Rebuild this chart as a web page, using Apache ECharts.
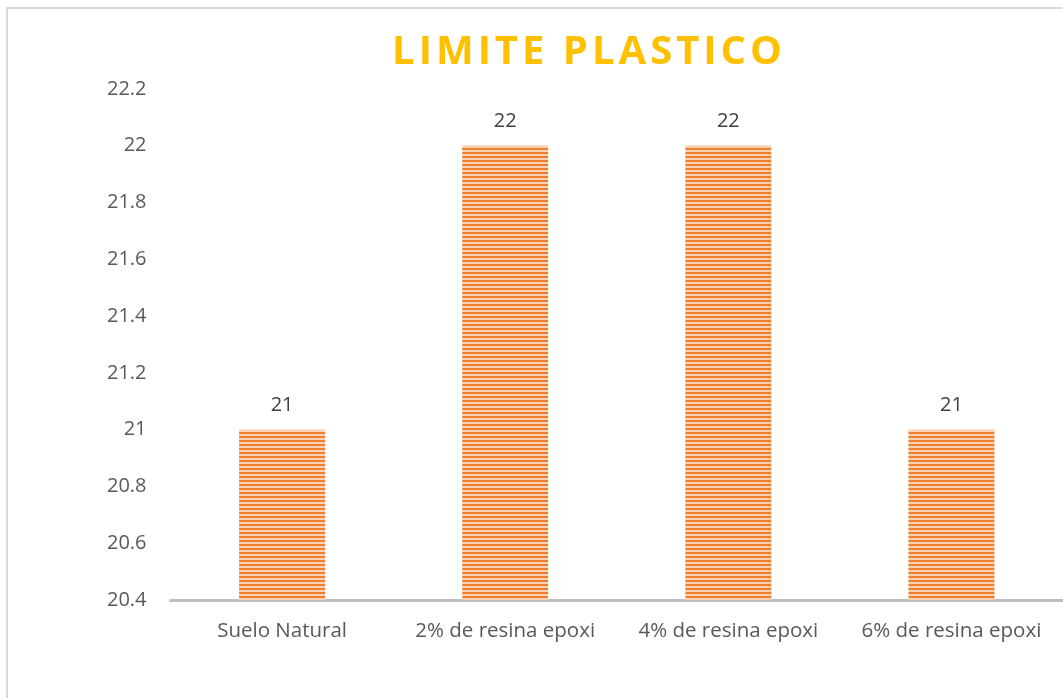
<!DOCTYPE html>
<html>
<head>
<meta charset="utf-8">
<style>html,body{margin:0;padding:0;background:#fff;}#c{width:1063px;height:698px;}</style>
<script src="https://cdn.jsdelivr.net/npm/echarts@6/dist/echarts.min.js"></script>
</head>
<body>
<div id="c"></div>
<script>
const categories = ['Suelo Natural', '2% de resina epoxi', '4% de resina epoxi', '6% de resina epoxi'];
const values = [21, 22, 22, 21];
const yTicks = [20.4, 20.6, 20.8, 21, 21.2, 21.4, 21.6, 21.8, 22, 22.2];
const titleText = 'LIMITE PLASTICO';

const pc = document.createElement('canvas');
pc.width = 4; pc.height = 4;
const ctx = pc.getContext('2d');
ctx.fillStyle = '#F9D2B4'; ctx.fillRect(0, 0, 4, 4);
ctx.fillStyle = '#F07F2E'; ctx.fillRect(0, 0, 4, 2);

const chart = echarts.init(document.getElementById('c'));
const font = "'Open Sans', 'Liberation Sans', sans-serif";
chart.setOption({
  animation: false,
  title: {
    text: titleText.split('').join('\u200A'),
    left: 582, top: 28, textAlign: 'center',
    textStyle: { color: '#FFC000', fontSize: 40, fontWeight: 'bold', fontFamily: font }
  },
  graphic: [{
    type: 'rect', shape: { x: 7, y: 8, width: 1100, height: 750 },
    style: { fill: 'none', stroke: '#D9D9D9', lineWidth: 2 }, silent: true
  }],
  grid: { left: 170.5, right: -9.5, top: 89, bottom: 98, containLabel: false },
  xAxis: {
    type: 'category', data: categories,
    axisLine: { lineStyle: { color: '#BFBFBF', width: 3 } },
    axisTick: { show: false },
    axisLabel: { color: '#595959', fontSize: 20.5, fontFamily: font, margin: 21, interval: 0, hideOverlap: false }
  },
  yAxis: {
    type: 'value', min: yTicks[0], max: yTicks[yTicks.length - 1], interval: 0.2,
    axisLine: { show: false }, axisTick: { show: false }, splitLine: { show: false },
    axisLabel: { color: '#595959', fontSize: 20, fontFamily: font, margin: 24,
      formatter: v => String(Math.round(v * 10) / 10) }
  },
  series: [{
    type: 'bar', data: values, barWidth: 86,
    itemStyle: { color: { image: pc, repeat: 'repeat' } },
    label: { show: true, position: 'top', distance: 14, color: '#404040', fontSize: 20, fontFamily: font }
  }]
});
</script>
</body>
</html>
